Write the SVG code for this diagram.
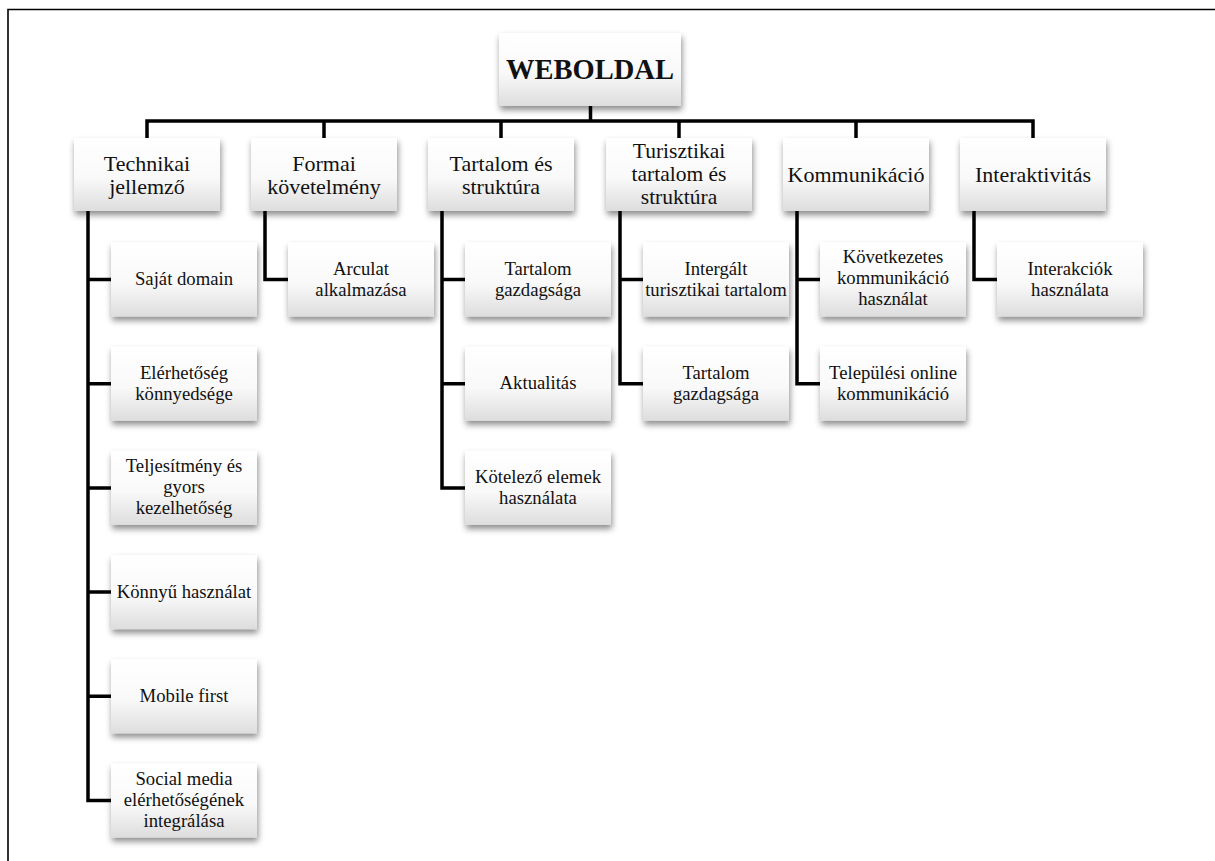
<svg xmlns="http://www.w3.org/2000/svg" width="1215" height="861" viewBox="0 0 1215 861">
<defs>
<linearGradient id="g" x1="0" y1="0" x2="0" y2="1">
<stop offset="0" stop-color="#ffffff"/>
<stop offset="0.55" stop-color="#f9f9f9"/>
<stop offset="1" stop-color="#dddddd"/>
</linearGradient>
<filter id="sh" x="-20%" y="-20%" width="140%" height="150%">
<feDropShadow dx="1" dy="4" stdDeviation="3" flood-color="#000" flood-opacity="0.45"/>
</filter>
<style>
.box{fill:url(#g);filter:url(#sh)}
text{font-family:'Liberation Serif','DejaVu Serif',serif}
.t1{font-size:22px;fill:#111;text-anchor:middle}
.t1s{font-size:21.5px;fill:#111;text-anchor:middle}
.t2{font-size:18.7px;fill:#111;text-anchor:middle}
.t0{font-size:28.5px;font-weight:bold;fill:#111;text-anchor:middle}
.ln{fill:none;stroke:#000;stroke-width:3.5;stroke-linejoin:miter;stroke-linecap:butt}
.fr{fill:none;stroke:#000;stroke-width:1.6}
</style>
</defs>
<rect width="1215" height="861" fill="#fff"/>
<path class="fr" d="M8,861 V9.5 H1215"/>

<g id="connectors">
<path class="ln" d="M590.5,106 V121"/>
<path class="ln" d="M147,138 V121 H1033 V138"/>
<path class="ln" d="M324,121 V138 M501,121 V138 M679,121 V138 M856,121 V138"/>
<path class="ln" d="M88,211 V800.5 H111 M88,279.5 H111 M88,383.7 H111 M88,487.9 H111 M88,592.1 H111 M88,696.3 H111"/>
<path class="ln" d="M265,211 V279.5 H288"/>
<path class="ln" d="M442,211 V487.9 H465 M442,279.5 H465 M442,383.7 H465"/>
<path class="ln" d="M620,211 V383.7 H643 M620,279.5 H643"/>
<path class="ln" d="M797,211 V383.7 H820 M797,279.5 H820"/>
<path class="ln" d="M974,211 V279.5 H997"/>
</g>

<g font-family="Liberation Serif, DejaVu Serif, serif">
<g id="weboldal"><rect class="box" x="499" y="33" width="182" height="73"/><text class="t0" x="590" y="79">WEBOLDAL</text></g>

<g id="technikai"><rect class="box" x="74" y="138" width="146" height="73"/><text class="t1" x="147" y="170.5">Technikai<tspan x="147" y="194">jellemző</tspan></text></g>
<g id="formai"><rect class="box" x="251" y="138" width="146" height="73"/><text class="t1" x="324" y="170.5">Formai<tspan x="324" y="194">követelmény</tspan></text></g>
<g id="tartalom"><rect class="box" x="428" y="138" width="146" height="73"/><text class="t1" x="501" y="170.5">Tartalom és<tspan x="501" y="194">struktúra</tspan></text></g>
<g id="turisztikai"><rect class="box" x="606" y="138" width="146" height="73"/><text class="t1s" x="679" y="158">Turisztikai<tspan x="679" y="181">tartalom és</tspan><tspan x="679" y="204">struktúra</tspan></text></g>
<g id="kommunikacio"><rect class="box" x="783" y="138" width="146" height="73"/><text class="t1" x="856" y="182">Kommunikáció</text></g>
<g id="interaktivitas"><rect class="box" x="960" y="138" width="146" height="73"/><text class="t1" x="1033" y="182">Interaktivitás</text></g>

<g id="sajat-domain"><rect class="box" x="111" y="242.5" width="146" height="74"/><text class="t2" x="184" y="285">Saját domain</text></g>
<g id="elerhetoseg"><rect class="box" x="111" y="346.7" width="146" height="74"/><text class="t2" x="184" y="378.7">Elérhetőség<tspan x="184" y="399.7">könnyedsége</tspan></text></g>
<g id="teljesitmeny"><rect class="box" x="111" y="450.9" width="146" height="74"/><text class="t2" x="184" y="472">Teljesítmény és<tspan x="184" y="493">gyors</tspan><tspan x="184" y="514">kezelhetőség</tspan></text></g>
<g id="konnyu"><rect class="box" x="111" y="555.1" width="146" height="74"/><text class="t2" x="184" y="597.6">Könnyű használat</text></g>
<g id="mobile"><rect class="box" x="111" y="659.3" width="146" height="74"/><text class="t2" x="184" y="701.8">Mobile first</text></g>
<g id="social"><rect class="box" x="111" y="763.5" width="146" height="74"/><text class="t2" x="184" y="784.5">Social media<tspan x="184" y="805.5">elérhetőségének</tspan><tspan x="184" y="826.5">integrálása</tspan></text></g>

<g id="arculat"><rect class="box" x="288" y="242.5" width="146" height="74"/><text class="t2" x="361" y="274.5">Arculat<tspan x="361" y="295.5">alkalmazása</tspan></text></g>

<g id="tartalom-gazdagsaga-1"><rect class="box" x="465" y="242.5" width="146" height="74"/><text class="t2" x="538" y="274.5">Tartalom<tspan x="538" y="295.5">gazdagsága</tspan></text></g>
<g id="aktualitas"><rect class="box" x="465" y="346.7" width="146" height="74"/><text class="t2" x="538" y="389.2">Aktualitás</text></g>
<g id="kotelezo"><rect class="box" x="465" y="450.9" width="146" height="74"/><text class="t2" x="538" y="482.9">Kötelező elemek<tspan x="538" y="503.9">használata</tspan></text></g>

<g id="intergalt"><rect class="box" x="643" y="242.5" width="146" height="74"/><text class="t2" x="716" y="274.5">Intergált<tspan x="716" y="295.5">turisztikai tartalom</tspan></text></g>
<g id="tartalom-gazdagsaga-2"><rect class="box" x="643" y="346.7" width="146" height="74"/><text class="t2" x="716" y="378.7">Tartalom<tspan x="716" y="399.7">gazdagsága</tspan></text></g>

<g id="kovetkezetes"><rect class="box" x="820" y="242.5" width="146" height="74"/><text class="t2" x="893" y="262.5">Következetes<tspan x="893" y="283.5">kommunikáció</tspan><tspan x="893" y="304.5">használat</tspan></text></g>
<g id="telepulesi"><rect class="box" x="820" y="346.7" width="146" height="74"/><text class="t2" x="893" y="378.7">Települési online<tspan x="893" y="399.7">kommunikáció</tspan></text></g>

<g id="interakciok"><rect class="box" x="997" y="242.5" width="146" height="74"/><text class="t2" x="1070" y="274.5">Interakciók<tspan x="1070" y="295.5">használata</tspan></text></g>
</g>
</svg>
